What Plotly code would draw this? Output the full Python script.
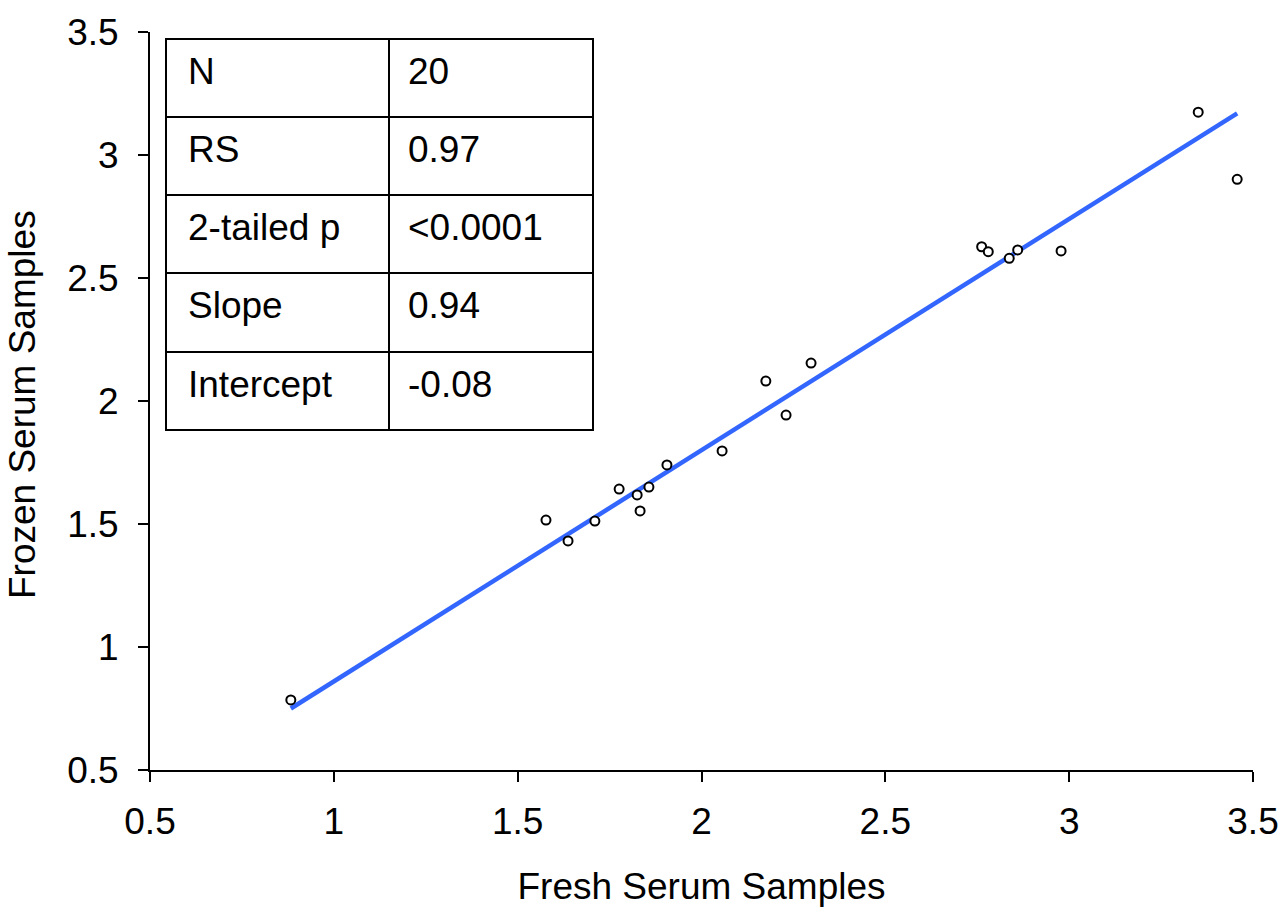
import plotly.graph_objects as go

fresh = [0.883, 1.577, 1.637, 1.710, 1.776, 1.825, 1.833, 1.857, 1.906, 2.056,
         2.175, 2.230, 2.298, 2.762, 2.780, 2.837, 2.860, 2.978, 3.351, 3.457]
frozen = [0.785, 1.516, 1.431, 1.512, 1.642, 1.618, 1.553, 1.650, 1.740, 1.797,
          2.081, 1.943, 2.154, 2.627, 2.607, 2.580, 2.614, 2.610, 3.174, 2.901]

stat_names = ["N", "RS", "2-tailed p", "Slope", "Intercept"]
stat_values = ["20", "0.97", "<0.0001", "0.94", "-0.08"]
slope = 0.94
intercept = -0.08

tick_vals = [0.5, 1, 1.5, 2, 2.5, 3, 3.5]
tick_text = ["0.5", "1", "1.5", "2", "2.5", "3", "3.5"]

FONT = "Liberation Sans, Arial, sans-serif"
FS = 37

W, H = 1286, 907
L, R, T, B = 150, 33, 32, 137
PW, PH = W - L - R, H - T - B


def px(x):
    return (x - L) / PW


def py(y):
    return (H - B - y) / PH


fig = go.Figure()
xl = [min(fresh), max(fresh)]
fig.add_trace(go.Scatter(x=xl, y=[slope * v + intercept for v in xl], mode="lines",
                         line=dict(color="#3366ff", width=4.5), hoverinfo="skip"))
fig.add_trace(go.Scatter(x=fresh, y=frozen, mode="markers",
                         marker=dict(symbol="circle", size=9, color="white",
                                     line=dict(color="black", width=2))))

# table
tx0, tx1, txm = 166, 593, 389
rows_y = [39, 117, 195, 273, 352, 430]
shapes = [dict(type="rect", xref="paper", yref="paper", x0=px(tx0), x1=px(tx1),
               y0=py(rows_y[-1]), y1=py(rows_y[0]), line=dict(color="black", width=2),
               fillcolor="white", layer="above")]
shapes.append(dict(type="line", xref="paper", yref="paper", x0=px(txm), x1=px(txm),
                   y0=py(rows_y[-1]), y1=py(rows_y[0]), line=dict(color="black", width=2)))
for yy in rows_y[1:-1]:
    shapes.append(dict(type="line", xref="paper", yref="paper", x0=px(tx0), x1=px(tx1),
                       y0=py(yy), y1=py(yy), line=dict(color="black", width=2)))

annotations = []
for i, (n, v) in enumerate(zip(stat_names, stat_values)):
    yc = (rows_y[i] + rows_y[i + 1]) / 2 - 7
    annotations.append(dict(xref="paper", yref="paper", x=px(186), y=py(yc), text=n,
                            showarrow=False, xanchor="left", yanchor="middle",
                            font=dict(family=FONT, size=FS, color="black")))
    annotations.append(dict(xref="paper", yref="paper", x=px(406), y=py(yc), text=v,
                            showarrow=False, xanchor="left", yanchor="middle",
                            font=dict(family=FONT, size=FS, color="black")))

# y axis title
annotations.append(dict(xref="paper", yref="paper", x=px(22), y=py(405),
                        text="Frozen Serum Samples", textangle=-90, showarrow=False,
                        xanchor="center", yanchor="middle",
                        font=dict(family=FONT, size=FS, color="black")))

axis_common = dict(showgrid=False, zeroline=False, showline=True, linecolor="black",
                   linewidth=2, ticks="outside", ticklen=10, tickwidth=2, tickcolor="black",
                   tickvals=tick_vals, ticktext=tick_text, range=[0.5, 3.5],
                   automargin=False,
                   tickfont=dict(family=FONT, size=FS, color="black"))

fig.update_layout(
    width=W, height=H, margin=dict(l=L, r=R, t=T, b=B),
    plot_bgcolor="white", paper_bgcolor="white", showlegend=False,
    xaxis=dict(**axis_common, ticklabelstandoff=8,
               title=dict(text="Fresh Serum Samples", standoff=36,
                          font=dict(family=FONT, size=FS, color="black"))),
    yaxis=dict(**axis_common, ticklabelstandoff=12),
    shapes=shapes, annotations=annotations,
)
fig.write_html("out.html")
